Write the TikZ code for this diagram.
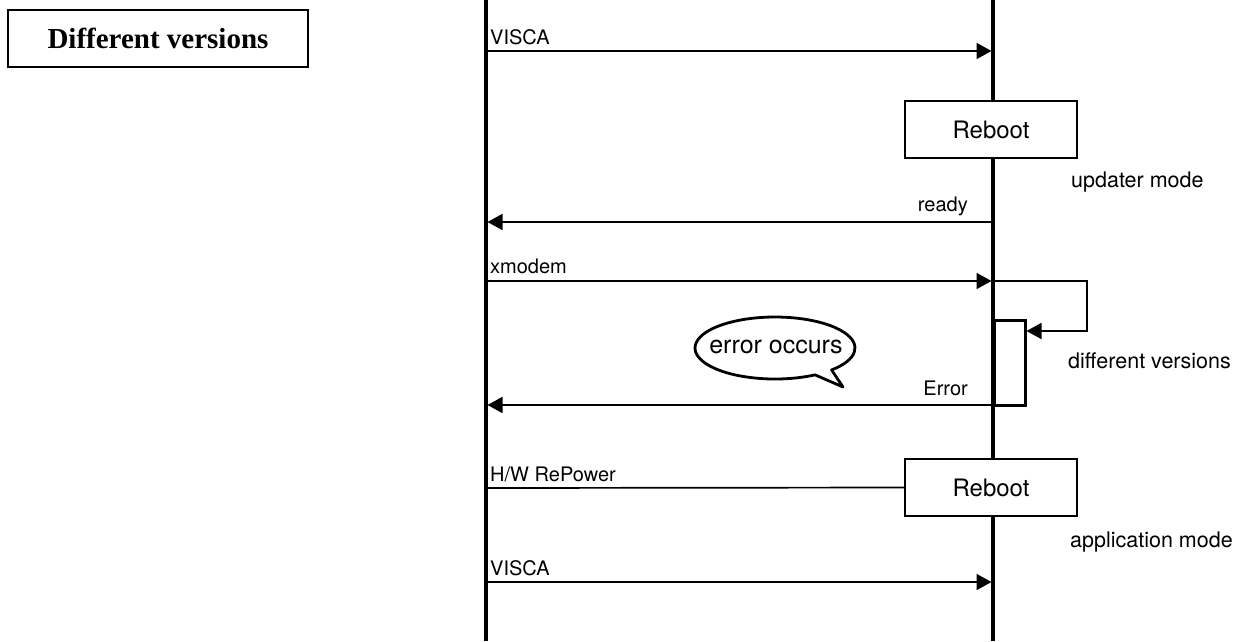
\documentclass[tikz,border=0pt]{standalone}
\usepackage{fontspec}
\setmainfont{TeX Gyre Heros}
\newfontfamily\titlefont{Liberation Serif}
\usetikzlibrary{arrows.meta}
\tikzset{
  lifeline/.style={line width=3.3pt},
  msg/.style={line width=1.7pt,-{Triangle[length=15pt,width=16pt]}},
  plainmsg/.style={line width=1.7pt},
  lbl/.style={inner sep=0pt,font=\fontsize{20}{24}\selectfont},
  side/.style={inner sep=0pt,anchor=base west,font=\fontsize{21.5}{25}\selectfont},
  rebootbox/.style={draw,line width=2.5pt,fill=white,minimum width=172pt,minimum height=57pt,inner sep=0pt,font=\fontsize{24}{28}\selectfont},
  bubbleline/.style={draw,line width=2.8pt,fill=white,line join=round},
}
\begin{document}
\begin{tikzpicture}[x=1pt,y=-1pt]
\useasboundingbox (0,0) rectangle (1239,641);
% title
\node[draw,line width=2.7pt,minimum width=300pt,minimum height=57pt,inner sep=0pt,
      font=\titlefont\bfseries\fontsize{29}{34}\selectfont] (title) at (158,38.5) {Different versions};
% lifelines
\coordinate (Ltop) at (486,0);
\coordinate (Lbot) at (486,641);
\coordinate (Rtop) at (993,0);
\coordinate (Rbot) at (993,641);
\draw[lifeline] (Ltop) -- (Lbot);
\draw[lifeline] (Rtop) -- (Rbot);
% reboot boxes
\node[rebootbox] (reboot1) at (991,129.5) {Reboot};
\node[rebootbox] (reboot2) at (991,487.5) {Reboot};
% messages
\coordinate (v1L) at (486,51);  \coordinate (v1R) at (991.5,51);
\draw[msg] (v1L) -- (v1R);
\node[lbl,anchor=base west] (v1t) at (490,44) {VISCA};
\coordinate (rdR) at (993,222); \coordinate (rdL) at (487.5,222);
\draw[msg] (rdR) -- (rdL);
\node[lbl,anchor=base east] (rdt) at (968,211) {ready};
\coordinate (xmL) at (486,281); \coordinate (xmR) at (991.5,281);
\draw[msg] (xmL) -- (xmR);
\node[lbl,anchor=base west] (xmt) at (490,273) {xmodem};
% self loop and activation
\node[draw,line width=3pt,minimum width=31pt,minimum height=85pt,inner sep=0pt] (act) at (1009.5,362.5) {};
\coordinate (lp1) at (993,281);
\coordinate (lp2) at (1087,281);
\coordinate (lp3) at (1087,331);
\coordinate (lp4) at (1026.5,331);
\draw[msg] (lp1) -- (lp2) -- (lp3) -- (lp4);
\node[side] (dv) at (1068,368) {different versions};
% error
\coordinate (erR) at (994,405); \coordinate (erL) at (487.5,405);
\draw[msg] (erR) -- (erL);
\node[lbl,anchor=base east] (ert) at (968,395) {Error};
% callout
\coordinate (tip) at (843,387);
\path[bubbleline] (815,374.85) arc[start angle=60,end angle=405,x radius=80,y radius=31] -- (tip) -- cycle;
\node[inner sep=0pt,font=\fontsize{25}{29}\selectfont] (bubble) at (776,347) {error occurs};
% repower
\coordinate (hwL) at (486,488);
\draw[plainmsg] (hwL) -- (reboot2.west);
\node[lbl,anchor=base west] (hwt) at (490,481) {H/W RePower};
% visca 2
\coordinate (v2L) at (486,582); \coordinate (v2R) at (991.5,582);
\draw[msg] (v2L) -- (v2R);
\node[lbl,anchor=base west] (v2t) at (490,575) {VISCA};
% side labels
\node[side] (um) at (1071,187) {updater mode};
\node[side] (am) at (1070,547) {application mode};
\end{tikzpicture}
\end{document}
